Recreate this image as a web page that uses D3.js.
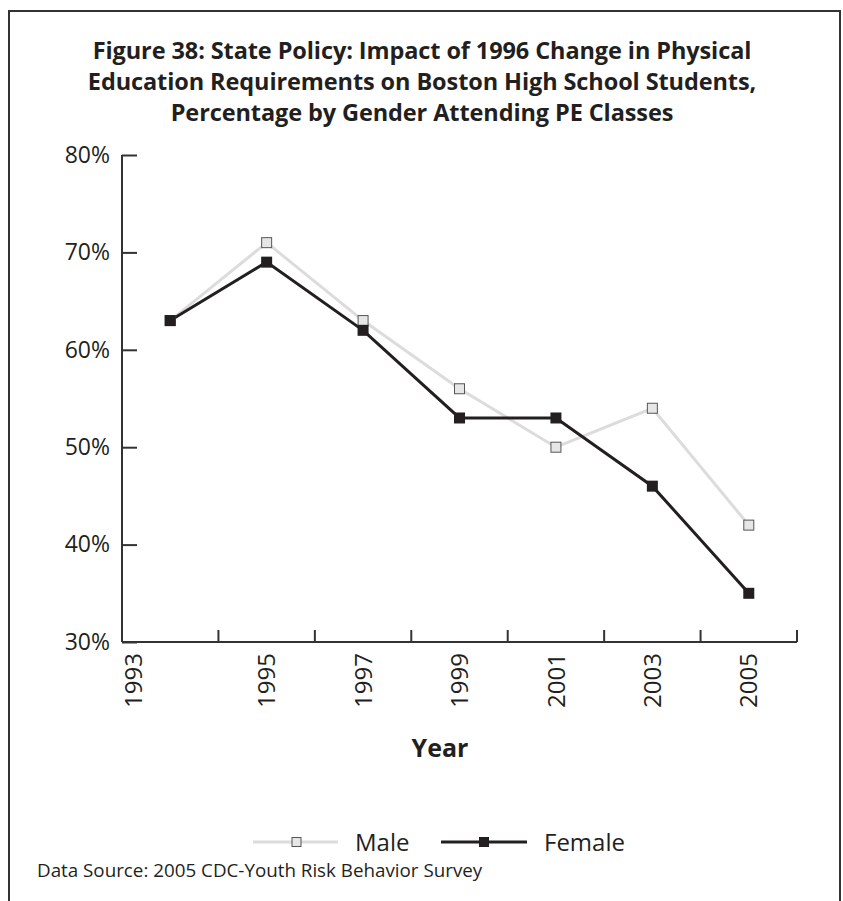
<!DOCTYPE html>
<html><head><meta charset="utf-8">
<script src="https://cdn.jsdelivr.net/npm/d3@7"></script>
<style>body{margin:0;background:#fff}svg{display:block}</style>
</head><body>
<script>
const years = ["1993","1995","1997","1999","2001","2003","2005"];
const male = [63, 71, 63, 56, 50, 54, 42];
const female = [63, 69, 62, 53, 53, 46, 35];
const yTicks = [30, 40, 50, 60, 70, 80];
const titleLines = [
  "Figure 38: State Policy: Impact of 1996 Change in Physical",
  "Education Requirements on Boston High School Students,",
  "Percentage by Gender Attending PE Classes"
];
const seriesNames = ["Male", "Female"];

const W = 843, H = 901;
const svg = d3.select("body").append("svg").attr("width", W).attr("height", H);
const font = "'Open Sans', 'Noto Sans', sans-serif";
const ink = "#231f20";

svg.append("rect").attr("x", 9).attr("y", 11).attr("width", 831).attr("height", 920)
  .attr("fill", "none").attr("stroke", "#333").attr("stroke-width", 2);

svg.selectAll("text.title").data(titleLines).join("text")
  .attr("class", "title")
  .attr("x", 422).attr("y", (d, i) => 59 + i * 31)
  .attr("text-anchor", "middle").attr("font-family", font).attr("font-weight", 700)
  .attr("font-size", 23.5).attr("letter-spacing", -0.1).attr("fill", ink).text(d => d);

const x0 = 122, x1 = 797, yTop = 155, yBot = 642;
const x = d3.scaleBand().domain(years).range([x0, x1]);
const y = d3.scaleLinear().domain([30, 80]).range([yBot, yTop]);

const axisColor = "#333";
// y axis
const yAxis = d3.axisLeft(y).tickValues(yTicks).tickSize(-15).tickFormat(d => d + "%");
const gy = svg.append("g").attr("transform", `translate(${x0},0)`).call(yAxis);
gy.select(".domain").attr("stroke", axisColor).attr("stroke-width", 2).attr("d", `M0,${yTop}V${yBot}`);
gy.selectAll(".tick line").attr("stroke", axisColor).attr("stroke-width", 2);
gy.selectAll(".tick text").attr("x", -12).attr("font-family", font).attr("font-size", 23).attr("fill", ink);

// x axis
const gx = svg.append("g").attr("transform", `translate(0,${yBot})`);
gx.append("path").attr("d", `M${x0},0H${x1}`).attr("stroke", axisColor).attr("stroke-width", 2).attr("fill", "none");
gx.selectAll("line.tk").data(years.slice(1).concat(["end"])).join("line")
  .attr("class", "tk")
  .attr("x1", d => d === "end" ? x1 : x(d)).attr("x2", d => d === "end" ? x1 : x(d))
  .attr("y1", 0).attr("y2", -12).attr("stroke", axisColor).attr("stroke-width", 2);
gx.selectAll("text.yl").data(years).join("text")
  .attr("class", "yl")
  .attr("transform", (d, i) => {
    const cx = i === 0 ? x0 + 11 : x(d) + x.bandwidth() / 2;
    return `translate(${cx},11) rotate(-90)`;
  })
  .attr("text-anchor", "end").attr("dy", "0.36em")
  .attr("font-family", font).attr("font-size", 24).attr("fill", ink).text(d => d);

svg.append("text").attr("x", 440).attr("y", 757).attr("text-anchor", "middle")
  .attr("font-family", font).attr("font-weight", 700).attr("font-size", 25).attr("fill", ink).text("Year");

const cx = d => x(d) + x.bandwidth() / 2;
const line = d3.line().x((d, i) => cx(years[i])).y(d => y(d));

svg.append("path").datum(male).attr("d", line).attr("fill", "none").attr("stroke", "#dcdcdc").attr("stroke-width", 3);
svg.append("path").datum(female).attr("d", line).attr("fill", "none").attr("stroke", ink).attr("stroke-width", 3);

svg.selectAll("rect.m").data(male).join("rect").attr("class", "m")
  .attr("x", (d, i) => cx(years[i]) - 5).attr("y", d => y(d) - 5).attr("width", 10).attr("height", 10)
  .attr("fill", "#e6e6e6").attr("stroke", "#555").attr("stroke-width", 1);
svg.selectAll("rect.f").data(female).join("rect").attr("class", "f")
  .attr("x", (d, i) => cx(years[i]) - 5.5).attr("y", d => y(d) - 5.5).attr("width", 11).attr("height", 11)
  .attr("fill", ink);

// legend
const lg = svg.append("g");
const ly = 842;
lg.append("line").attr("x1", 253).attr("x2", 338).attr("y1", ly).attr("y2", ly).attr("stroke", "#dcdcdc").attr("stroke-width", 3);
lg.append("rect").attr("x", 292).attr("y", ly - 4.5).attr("width", 9).attr("height", 9).attr("fill", "#e6e6e6").attr("stroke", "#555").attr("stroke-width", 1);
lg.append("text").attr("x", 355).attr("y", ly).attr("dy", "0.36em").attr("font-family", font).attr("font-size", 24).attr("fill", ink).text(seriesNames[0]);
lg.append("line").attr("x1", 441).attr("x2", 527).attr("y1", ly).attr("y2", ly).attr("stroke", ink).attr("stroke-width", 3);
lg.append("rect").attr("x", 479).attr("y", ly - 5).attr("width", 10).attr("height", 10).attr("fill", ink);
lg.append("text").attr("x", 544).attr("y", ly).attr("dy", "0.36em").attr("font-family", font).attr("font-size", 24).attr("fill", ink).text(seriesNames[1]);

svg.append("text").attr("x", 37).attr("y", 877).attr("font-family", font).attr("font-size", 18.8).attr("fill", ink)
  .text("Data Source: 2005 CDC-Youth Risk Behavior Survey");
</script>
</body></html>
